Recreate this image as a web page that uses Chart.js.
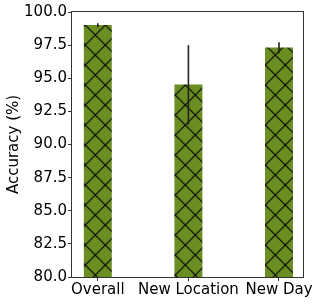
<!DOCTYPE html>
<html><head><meta charset="utf-8">
<script src="https://cdn.jsdelivr.net/npm/chart.js@4/dist/chart.umd.min.js"></script>
<style>html,body{margin:0;padding:0;background:#fff}canvas{display:block}</style>
</head><body>
<canvas id="c" width="320" height="304"></canvas>
<script>
const categories = ['Overall', 'New Location', 'New Day'];
const accuracy = [99.0, 94.5, 97.3];
const accuracyErr = [0.15, 3.0, 0.42];
const yTicks = [80, 82.5, 85, 87.5, 90, 92.5, 95, 97.5, 100];

const FONT = {family: 'DejaVu Sans', size: 15};

function makeHatch() {
  const P = 20;
  const t = document.createElement('canvas');
  t.width = P; t.height = P;
  const g = t.getContext('2d');
  g.fillStyle = '#6b8e23';
  g.fillRect(0, 0, P, P);
  g.strokeStyle = '#000';
  g.lineWidth = 1.1;
  g.beginPath();
  g.moveTo(-2, -2); g.lineTo(P + 2, P + 2);
  g.moveTo(-2, P + 2); g.lineTo(P + 2, -2);
  g.stroke();
  const ctx = document.getElementById('c').getContext('2d');
  const pat = ctx.createPattern(t, 'repeat');
  pat.setTransform(new DOMMatrix().translate(5.3, 5));
  return pat;
}

function zeroPad(s) { s.paddingTop = 0; s.paddingBottom = 0; s.paddingLeft = 0; s.paddingRight = 0; }

const errorBars = {
  id: 'errorBars',
  afterDatasetsDraw(chart) {
    const {ctx, scales: {x, y}} = chart;
    ctx.save();
    ctx.strokeStyle = '#222';
    ctx.lineWidth = 1.6;
    accuracy.forEach((v, i) => {
      const px = x.getPixelForValue(i);
      ctx.beginPath();
      ctx.moveTo(px, y.getPixelForValue(v + accuracyErr[i]));
      ctx.lineTo(px, y.getPixelForValue(v - accuracyErr[i]));
      ctx.stroke();
    });
    ctx.restore();
  }
};

const frame = {
  id: 'frame',
  afterDraw(chart) {
    const {ctx, chartArea: a} = chart;
    ctx.save();
    ctx.strokeStyle = '#333';
    ctx.lineWidth = 1;
    ctx.strokeRect(Math.round(a.left) - 0.5, Math.round(a.top) - 0.5,
      Math.round(a.right) - Math.round(a.left) + 1, Math.round(a.bottom) - Math.round(a.top) + 1);
    ctx.restore();
  }
};

new Chart(document.getElementById('c'), {
  type: 'bar',
  data: {
    datasets: [{
      data: accuracy.map((v, i) => ({x: i, y: v})),
      backgroundColor: makeHatch(),
      borderWidth: 0,
      barThickness: 27.3
    }]
  },
  options: {
    responsive: false,
    animation: false,
    devicePixelRatio: 1,
    layout: {padding: {top: 12, right: 17, bottom: 0, left: 0}},
    plugins: {legend: {display: false}, tooltip: {enabled: false}},
    scales: {
      x: {
        type: 'linear',
        offset: false,
        bounds: 'data',
        min: -0.285, max: 2.265,
        grid: {offset: false, drawOnChartArea: false, drawTicks: true, tickLength: 4, tickColor: '#333'},
        border: {display: false},
        afterBuildTicks: s => { s.ticks = categories.map((c, i) => ({value: i})); },
        afterFit: s => { s.height = 27; zeroPad(s); },
        ticks: {
          autoSkip: false, maxRotation: 0, padding: 0,
          color: '#000', font: FONT,
          callback: v => categories[v]
        }
      },
      y: {
        min: 80, max: 100,
        grid: {drawOnChartArea: false, drawTicks: true, tickLength: 4, tickColor: '#333'},
        border: {display: false},
        afterBuildTicks: s => { s.ticks = yTicks.map(v => ({value: v})); },
        afterFit: s => { s.width = 72; zeroPad(s); },
        ticks: {padding: 1, color: '#000', font: FONT, callback: v => v.toFixed(1)},
        title: {display: true, text: 'Accuracy (%)', color: '#000', font: FONT, padding: {top: 5, bottom: 0}}
      }
    }
  },
  plugins: [errorBars, frame]
});
</script>
</body></html>
